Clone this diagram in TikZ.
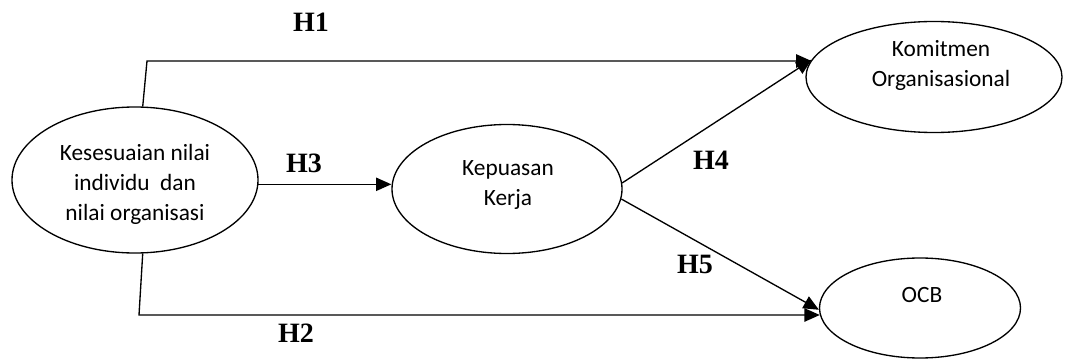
\documentclass[tikz,border=0pt]{standalone}
\usepackage{fontspec}
\setmainfont{Liberation Serif}
\newfontfamily\varfont{Carlito}
\usetikzlibrary{shapes.geometric,arrows.meta}
\tikzset{
	var/.style={draw=black, ellipse, line width=1pt, inner sep=0pt},
	vartext/.style={align=center, font=\varfont\fontsize{17.5}{22.5}\selectfont},
	hyp/.style={font=\bfseries\fontsize{21}{25}\selectfont},
	link/.style={line width=1pt, -{Triangle[length=11.5pt,width=10pt]}}
}
\begin{document}
\begin{tikzpicture}[x=0.75pt, y=-0.75pt]
		\useasboundingbox (0,0) rectangle (1067,360);
		% variables
		\node[var, minimum width=184.5pt, minimum height=109.5pt] (kesesuaian) at (135,180) {};
		\node[var, minimum width=172.5pt, minimum height=96.75pt] (kepuasan) at (507,189) {};
		\node[var, minimum width=192pt, minimum height=83.25pt] (komitmen) at (934,77) {};
		\node[var, minimum width=150.75pt, minimum height=75pt] (ocb) at (920,308) {};
		\node[vartext] (kesesuaiantext) at (135,184) {Kesesuaian nilai\\individu\ \ dan\\nilai organisasi};
		\node[vartext] (kepuasantext) at (508,185) {Kepuasan\\Kerja};
		\node[vartext] (komitmentext) at (941,65) {Komitmen\\Organisasional};
		\node[vartext] (ocbtext) at (922,295) {OCB};
		% hypotheses
		\coordinate (h1bend) at (147,61);
		\coordinate (h2bend) at (139,315);
		\draw[link] (kesesuaian.84) -- (h1bend) -- (h1bend -| komitmen.172);
		\draw[link] (kesesuaian.-84) -- (h2bend) -- (h2bend -| ocb.184);
		\draw[link] (kesesuaian.-2) -- (kesesuaian.-2 -| kepuasan.west);
		\draw[link] (kepuasan.3) -- (komitmen.172);
		\draw[link] (kepuasan.-5) -- (ocb.181);
		\node[hyp] (h1) at (311,22) {H1};
		\node[hyp] (h2) at (296,333) {H2};
		\node[hyp] (h3) at (304,163) {H3};
		\node[hyp] (h4) at (711,160) {H4};
		\node[hyp] (h5) at (695,264) {H5};
	\end{tikzpicture}
\end{document}
